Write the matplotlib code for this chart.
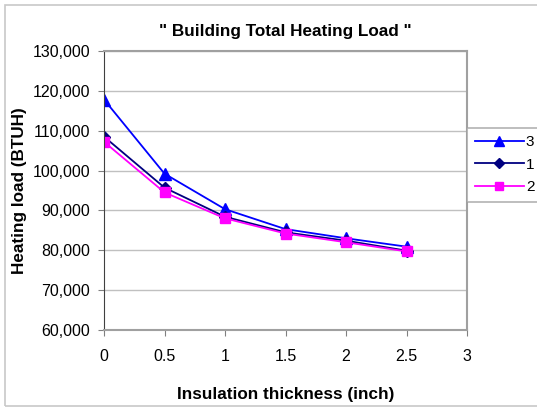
import matplotlib as mpl
mpl.use('Agg')

import matplotlib.pyplot as plt
import matplotlib.ticker as ticker
from matplotlib.patches import Rectangle

plt.rcParams['font.family'] = ['Liberation Sans', 'DejaVu Sans']

# Data
thickness = [0, 0.5, 1, 1.5, 2, 2.5]
load_3 = [117800, 99200, 90300, 85300, 83000, 80900]
load_1 = [108500, 95700, 88400, 84500, 82400, 79900]
load_2 = [107200, 94500, 88000, 84200, 82000, 79700]

series = [
    ('3', load_3, '#0000ff', '^', 8),
    ('1', load_1, '#000080', 'D', 6),
    ('2', load_2, '#ff00ff', 's', 7),
]

fig = plt.figure(figsize=(5.37, 4.08), dpi=100)
ax = fig.add_axes([0.1937, 0.1912, 0.676, 0.684])

# light frame round the whole chart (right side runs off the image)
fig.patches.append(Rectangle((0.009, 0.005), 1.1, 0.983, transform=fig.transFigure,
                             fill=False, edgecolor='#c8c8c8', linewidth=1.2))

for label, vals, col, mk, ms in series:
    ax.plot(thickness, vals, color=col, marker=mk, markersize=ms,
            linewidth=1.3, label=label)

ax.set_xlim(0, 3)
ax.set_ylim(60000, 130000)
ax.set_xticks([0, 0.5, 1, 1.5, 2, 2.5, 3])
ax.set_xticklabels(['0', '0.5', '1', '1.5', '2', '2.5', '3'])
ax.yaxis.set_major_locator(ticker.MultipleLocator(10000))
ax.yaxis.set_major_formatter(ticker.FuncFormatter(lambda v, p: f'{int(v):,}'))
ax.grid(axis='y', color='#c0c0c0', linewidth=1.0)
ax.set_axisbelow(True)

ax.tick_params(axis='both', labelsize=11.5, length=4, color='#808080', pad=6)
ax.tick_params(axis='x', pad=10)
for side in ['top', 'right']:
    ax.spines[side].set_color('#a0a0a0')
    ax.spines[side].set_linewidth(1.5)
ax.spines['left'].set_color('#404040')
ax.spines['bottom'].set_color('#a0a0a0')
ax.spines['bottom'].set_linewidth(1.5)

ax.set_title('" Building Total Heating Load "', fontsize=12.3, fontweight='bold', pad=11)
ax.set_xlabel('Insulation thickness (inch)', fontsize=12.3, fontweight='bold', labelpad=16)
ax.set_ylabel('Heating load (BTUH)', fontsize=12.3, fontweight='bold')
ax.yaxis.set_label_coords(-0.212, 0.5)

leg = ax.legend(loc='upper left', bbox_to_anchor=(1.0, 0.725), fontsize=11,
                frameon=True, fancybox=False, edgecolor='#a0a0a0',
                handlelength=3.2, handletextpad=0.15, borderaxespad=0,
                labelspacing=0.55, borderpad=0.5, markerscale=0.85)
leg.get_frame().set_linewidth(1.2)

plt.savefig('out.png', dpi=100)
